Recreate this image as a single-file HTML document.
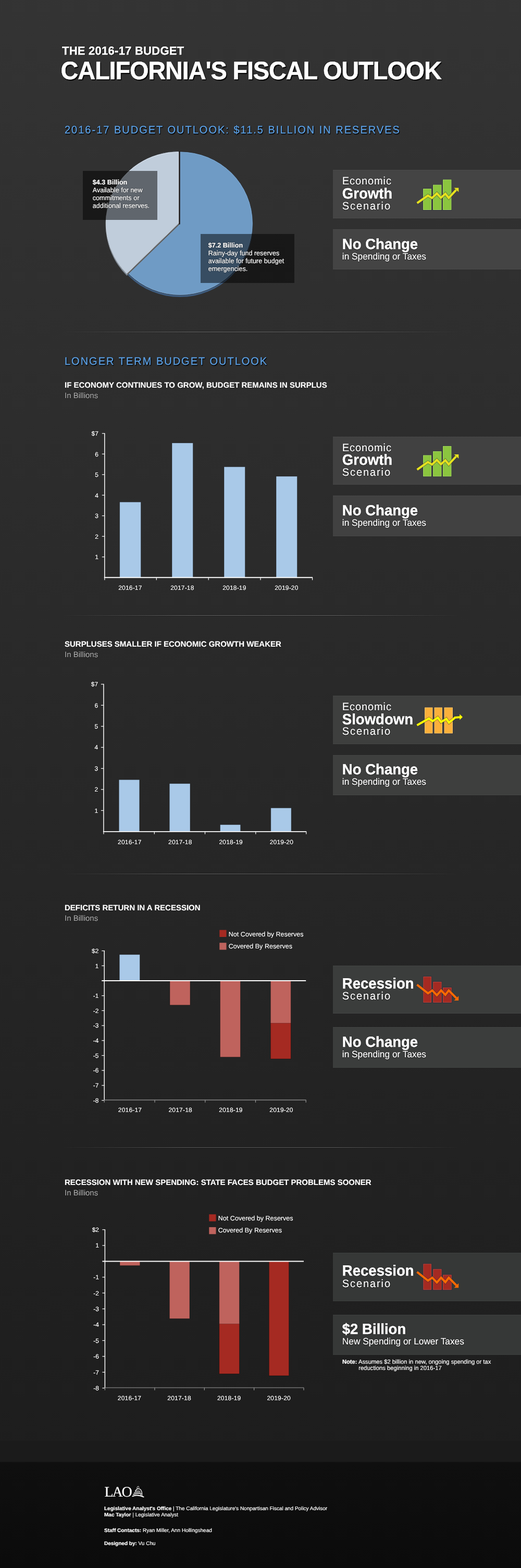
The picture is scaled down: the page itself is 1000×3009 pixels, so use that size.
<!DOCTYPE html>
<html lang="en"><head><meta charset="utf-8"><title>California's Fiscal Outlook</title>
<style>
*{margin:0;padding:0;box-sizing:border-box}
html,body{width:1000px;height:3009px;overflow:hidden;background:#1c1c1c}
body{position:relative;text-rendering:geometricPrecision;-webkit-text-stroke:0.2px;text-shadow:0 0 1px rgba(0,0,0,.85),0 0 2px rgba(0,0,0,.6);font-family:"Liberation Sans",Arial,Helvetica,sans-serif;color:#fff}
#bg{position:absolute;left:0;top:0;width:1000px;height:2765px;background:linear-gradient(to bottom,#343434 -63px,#1d1d1d 2828px)}
#band{position:absolute;left:0;top:2765px;width:1000px;height:42px;background:#1b1b1b}
#footer{position:absolute;left:0;top:2805px;width:1000px;height:204px;background:linear-gradient(to bottom,#161616 0,#0f0f0f 2px,#0e0e0e 60px,#0b0b0b 204px)}
.t{position:absolute;white-space:nowrap;display:block}
.b{font-weight:bold}
.box{position:absolute;left:638.8px;width:362px;box-shadow:inset 0 1px 0 rgba(255,255,255,.04),inset 0 -1px 0 rgba(255,255,255,.04)}
.hr{position:absolute;left:112px;width:776px;height:4px;background:linear-gradient(to bottom,rgba(0,0,0,.28) 0,rgba(0,0,0,.28) 1px,rgba(255,255,255,.15) 1px,rgba(255,255,255,.15) 3px,rgba(0,0,0,.28) 3px,rgba(0,0,0,.28) 4px);-webkit-mask-image:linear-gradient(to right,transparent 0,#000 32%,#000 68%,transparent 100%);mask-image:linear-gradient(to right,transparent 0,#000 32%,#000 68%,transparent 100%)}
.lbl{position:absolute;background:rgba(0,0,0,0.5)}
svg{position:absolute;left:0;top:0;overflow:visible}
.h{color:#5ea2e6;-webkit-text-stroke:0.3px #5ea2e6;text-shadow:1px 1px 1px #000,1px 2px 1px rgba(0,0,0,.8),0 0 2px rgba(0,0,0,.7)}
.g{color:#a8a8a8}
.p{text-shadow:0 0 1px rgba(0,0,0,.9),0 0 2px rgba(0,0,0,.8),0 1px 1px rgba(0,0,0,.5)}
</style></head>
<body>
<div id="bg"></div><div id="band"></div><div id="footer"></div>
<div class="t b" id="t1" style="top:84px;font-size:22px;line-height:27px;transform:scaleY(1.03);transform-origin:0 21px;letter-spacing:0.25px;left:119px;text-shadow:1px 1px 0 #000,-1px -1px 1px rgba(0,0,0,.4),0 0 2px rgba(0,0,0,.7);-webkit-text-stroke:0.4px #fff;">THE 2016-17 BUDGET</div>
<div class="t b" id="t2" style="top:107px;font-size:47px;line-height:57px;transform:scaleY(1.025);transform-origin:0 45px;letter-spacing:-1.19px;left:116.5px;text-shadow:1px 1px 0 #000,1px 2px 0 #000,2px 2px 1px rgba(0,0,0,.7),-1px -1px 1px rgba(0,0,0,.45),0 0 2px rgba(0,0,0,.6);-webkit-text-stroke:0.5px #fff;">CALIFORNIA'S FISCAL OUTLOOK</div>
<div class="t h" id="h1" style="top:238px;font-size:20px;line-height:24px;transform:scaleY(1.045);transform-origin:0 18px;letter-spacing:2px;left:124px;">2016-17 BUDGET OUTLOOK: $11.5 BILLION IN RESERVES</div>
<div class="t h" id="h2" style="top:682px;font-size:20px;line-height:24px;transform:scaleY(1.045);transform-origin:0 18px;letter-spacing:2px;left:124px;">LONGER TERM BUDGET OUTLOOK</div>
<div class="hr" style="top:635px"></div>
<div class="hr" style="top:1179px"></div>
<div class="hr" style="top:1675px"></div>
<div class="hr" style="top:2200px"></div>
<svg width="1000" height="3009" viewBox="0 0 1000 3009">
<g id="pie">
<ellipse cx="345.7" cy="432.3" rx="139.5" ry="137.8" fill="#3f5d80"/>
<ellipse cx="345.7" cy="428.7" rx="139.5" ry="137.7" fill="#6f9bc5" stroke="#25282d" stroke-width="0.8"/>
<ellipse cx="345.7" cy="428.7" rx="138.6" ry="136.8" fill="none" stroke="#86b2de" stroke-width="0.9" stroke-opacity="0.7"/>
<path d="M343.20,432.10 L343.20,294.10 A140.3,138 0 0 0 243.32,529.01 Z" fill="#7d8894"/>
<path d="M344.90,430.20 L344.90,292.20 A140.3,138 0 0 0 245.02,527.11 Z" fill="#5c5c5c"/>
<rect x="343.2" y="290.3" width="2.5" height="140.2" fill="#1c1613"/>
<path d="M343.20,428.50 L343.20,290.50 A140.3,138 0 0 0 243.32,525.41 Z" fill="#c0cddb" stroke="#25282d" stroke-width="0.6"/>
<path d="M342.60,429.10 L342.60,292.00 A139.4,137.1 0 0 0 243.36,525.38 Z" fill="none" stroke="#e4ecf4" stroke-width="0.9" stroke-opacity="0.8"/>
</g>
</svg>
<div class="lbl" style="left:158.6px;top:327.5px;width:143.5px;height:94.5px"></div>
<div class="lbl" style="left:385px;top:448.7px;width:180px;height:94.5px"></div>
<div class="t b" id="p1a" style="top:342px;font-size:12.6px;line-height:16px;transform:scaleY(1.03);transform-origin:0 12px;left:177.8px;">$4.3 Billion</div>
<div class="t" id="p1b" style="top:357px;font-size:12.6px;line-height:16px;transform:scaleY(1.03);transform-origin:0 12px;left:177.8px;">Available for new</div>
<div class="t" id="p1c" style="top:372px;font-size:12.6px;line-height:16px;transform:scaleY(1.03);transform-origin:0 12px;left:177.8px;">commitments or</div>
<div class="t" id="p1d" style="top:387px;font-size:12.6px;line-height:16px;transform:scaleY(1.03);transform-origin:0 12px;left:177.8px;">additional reserves.</div>
<div class="t b" id="p2a" style="top:463px;font-size:12.6px;line-height:16px;transform:scaleY(1.03);transform-origin:0 12px;left:399.7px;">$7.2 Billion</div>
<div class="t" id="p2b" style="top:478px;font-size:12.6px;line-height:16px;transform:scaleY(1.03);transform-origin:0 12px;left:399.7px;">Rainy-day fund reserves</div>
<div class="t" id="p2c" style="top:493px;font-size:12.6px;line-height:16px;transform:scaleY(1.03);transform-origin:0 12px;left:399.7px;">available for future budget</div>
<div class="t" id="p2d" style="top:508px;font-size:12.6px;line-height:16px;transform:scaleY(1.03);transform-origin:0 12px;left:399.7px;">emergencies.</div>
<div class="box" style="top:326.1px;height:92.5px;background:#444444"></div>
<div class="t p" id="s1a" style="top:336px;font-size:20px;line-height:24px;transform:scaleY(1.04);transform-origin:0 18px;letter-spacing:0.9px;left:656.8px;">Economic</div>
<div class="t b p" id="s1b" style="top:355px;font-size:27.55px;line-height:34px;transform:scaleY(1.045);transform-origin:0 26px;left:656.8px;-webkit-text-stroke:0.45px #fff;">Growth</div>
<div class="t p" id="s1c" style="top:384px;font-size:20px;line-height:24px;transform:scaleY(1.04);transform-origin:0 18px;letter-spacing:1.9px;left:656.8px;">Scenario</div>
<div class="box" style="top:439.8px;height:77.5px;background:#444444"></div>
<div class="t b p" id="n1a" style="top:452px;font-size:27.55px;line-height:34px;transform:scaleY(1.03);transform-origin:0 26px;left:656.8px;-webkit-text-stroke:0.45px #fff;">No Change</div>
<div class="t p" id="n1b" style="top:482px;font-size:17.3px;line-height:21px;transform:scaleY(1.03);transform-origin:0 16px;left:656.8px;">in Spending or Taxes</div>
<div class="box" style="top:837.6px;height:92.5px;background:#414141"></div>
<div class="t p" id="s2a" style="top:848px;font-size:20px;line-height:24px;transform:scaleY(1.04);transform-origin:0 18px;letter-spacing:0.9px;left:656.8px;">Economic</div>
<div class="t b p" id="s2b" style="top:866px;font-size:27.55px;line-height:34px;transform:scaleY(1.045);transform-origin:0 26px;left:656.8px;-webkit-text-stroke:0.45px #fff;">Growth</div>
<div class="t p" id="s2c" style="top:895px;font-size:20px;line-height:24px;transform:scaleY(1.04);transform-origin:0 18px;letter-spacing:1.9px;left:656.8px;">Scenario</div>
<div class="box" style="top:951.2px;height:77.5px;background:#414141"></div>
<div class="t b p" id="n2a" style="top:963px;font-size:27.55px;line-height:34px;transform:scaleY(1.03);transform-origin:0 26px;left:656.8px;-webkit-text-stroke:0.45px #fff;">No Change</div>
<div class="t p" id="n2b" style="top:993px;font-size:17.3px;line-height:21px;transform:scaleY(1.03);transform-origin:0 16px;left:656.8px;">in Spending or Taxes</div>
<div class="box" style="top:1335px;height:92.5px;background:#3e3f3e"></div>
<div class="t p" id="s3a" style="top:1345px;font-size:20px;line-height:24px;transform:scaleY(1.04);transform-origin:0 18px;letter-spacing:0.9px;left:656.8px;">Economic</div>
<div class="t b p" id="s3b" style="top:1364px;font-size:27.55px;line-height:34px;transform:scaleY(1.045);transform-origin:0 26px;left:656.8px;-webkit-text-stroke:0.45px #fff;">Slowdown</div>
<div class="t p" id="s3c" style="top:1392px;font-size:20px;line-height:24px;transform:scaleY(1.04);transform-origin:0 18px;letter-spacing:1.9px;left:656.8px;">Scenario</div>
<div class="box" style="top:1448.7px;height:77.5px;background:#3e3f3e"></div>
<div class="t b p" id="n3a" style="top:1460px;font-size:27.55px;line-height:34px;transform:scaleY(1.03);transform-origin:0 26px;left:656.8px;-webkit-text-stroke:0.45px #fff;">No Change</div>
<div class="t p" id="n3b" style="top:1490px;font-size:17.3px;line-height:21px;transform:scaleY(1.03);transform-origin:0 16px;left:656.8px;">in Spending or Taxes</div>
<div class="box" style="top:1852.5px;height:92.5px;background:#3b3d3c"></div>
<div class="t b p" id="s4b" style="top:1871px;font-size:27.55px;line-height:34px;transform:scaleY(1.045);transform-origin:0 26px;left:656.8px;-webkit-text-stroke:0.45px #fff;">Recession</div>
<div class="t p" id="s4c" style="top:1900px;font-size:20px;line-height:24px;transform:scaleY(1.04);transform-origin:0 18px;letter-spacing:1.9px;left:656.8px;">Scenario</div>
<div class="box" style="top:1971.2px;height:77.5px;background:#3b3d3c"></div>
<div class="t b p" id="n4a" style="top:1983px;font-size:27.55px;line-height:34px;transform:scaleY(1.03);transform-origin:0 26px;left:656.8px;-webkit-text-stroke:0.45px #fff;">No Change</div>
<div class="t p" id="n4b" style="top:2013px;font-size:17.3px;line-height:21px;transform:scaleY(1.03);transform-origin:0 16px;left:656.8px;">in Spending or Taxes</div>
<div class="box" style="top:2404px;height:92.5px;background:#363837"></div>
<div class="t b p" id="s5b" style="top:2422px;font-size:27.55px;line-height:34px;transform:scaleY(1.045);transform-origin:0 26px;left:656.8px;-webkit-text-stroke:0.45px #fff;">Recession</div>
<div class="t p" id="s5c" style="top:2452px;font-size:20px;line-height:24px;transform:scaleY(1.04);transform-origin:0 18px;letter-spacing:1.9px;left:656.8px;">Scenario</div>
<div class="box" style="top:2522.7px;height:77.5px;background:#363837"></div>
<div class="t b p" id="n5a" style="top:2534px;font-size:27.55px;line-height:34px;transform:scaleY(1.03);transform-origin:0 26px;left:656.8px;-webkit-text-stroke:0.45px #fff;">$2 Billion</div>
<div class="t p" id="n5b" style="top:2564px;font-size:17.3px;line-height:21px;transform:scaleY(1.03);transform-origin:0 16px;left:656.8px;">New Spending or Lower Taxes</div>
<div class="t" id="note1" style="top:2607px;font-size:11.2px;line-height:14px;transform:scaleY(1.02);transform-origin:0 10px;letter-spacing:0.01px;left:656.9px;"><b>Note:</b> Assumes $2 billion in new, ongoing spending or tax</div>
<div class="t" id="note2" style="top:2619px;font-size:11.2px;line-height:14px;transform:scaleY(1.02);transform-origin:0 10px;letter-spacing:0.01px;left:688.2px;">reductions beginning in 2016-17</div>
<div class="t b" id="c1t" style="top:731px;font-size:15px;line-height:18px;left:124px;-webkit-text-stroke:0.2px #fff;">IF ECONOMY CONTINUES TO GROW, BUDGET REMAINS IN SURPLUS</div>
<div class="t g" id="c1s" style="top:751px;font-size:15px;line-height:18px;left:124px;">In Billions</div>
<div class="t b" id="c2t" style="top:1228px;font-size:15px;line-height:18px;left:124px;-webkit-text-stroke:0.2px #fff;">SURPLUSES SMALLER IF ECONOMIC GROWTH WEAKER</div>
<div class="t g" id="c2s" style="top:1248px;font-size:15px;line-height:18px;left:124px;">In Billions</div>
<div class="t b" id="c3t" style="top:1734px;font-size:15px;line-height:18px;left:124px;-webkit-text-stroke:0.2px #fff;">DEFICITS RETURN IN A RECESSION</div>
<div class="t g" id="c3s" style="top:1754px;font-size:15px;line-height:18px;left:124px;">In Billions</div>
<div class="t b" id="c4t" style="top:2261px;font-size:15px;line-height:18px;left:124px;-webkit-text-stroke:0.2px #fff;">RECESSION WITH NEW SPENDING: STATE FACES BUDGET PROBLEMS SOONER</div>
<div class="t g" id="c4s" style="top:2281px;font-size:15px;line-height:18px;left:124px;">In Billions</div>
<div class="t" id="c1y7" style="top:825px;font-size:12px;line-height:15px;right:811.2px;text-align:right;">$7</div>
<div class="t" id="c1y6" style="top:865px;font-size:12px;line-height:15px;right:811.2px;text-align:right;">6</div>
<div class="t" id="c1y5" style="top:904px;font-size:12px;line-height:15px;right:811.2px;text-align:right;">5</div>
<div class="t" id="c1y4" style="top:944px;font-size:12px;line-height:15px;right:811.2px;text-align:right;">4</div>
<div class="t" id="c1y3" style="top:983px;font-size:12px;line-height:15px;right:811.2px;text-align:right;">3</div>
<div class="t" id="c1y2" style="top:1023px;font-size:12px;line-height:15px;right:811.2px;text-align:right;">2</div>
<div class="t" id="c1y1" style="top:1062px;font-size:12px;line-height:15px;right:811.2px;text-align:right;">1</div>
<div class="t" id="c1x2016" style="top:1121px;font-size:12px;line-height:15px;letter-spacing:0.2px;left:149.9px;width:200px;text-align:center;">2016-17</div>
<div class="t" id="c1x2017" style="top:1121px;font-size:12px;line-height:15px;letter-spacing:0.2px;left:249.9px;width:200px;text-align:center;">2017-18</div>
<div class="t" id="c1x2018" style="top:1121px;font-size:12px;line-height:15px;letter-spacing:0.2px;left:349.9px;width:200px;text-align:center;">2018-19</div>
<div class="t" id="c1x2019" style="top:1121px;font-size:12px;line-height:15px;letter-spacing:0.2px;left:449.9px;width:200px;text-align:center;">2019-20</div>
<div class="t" id="c2y7" style="top:1306px;font-size:12px;line-height:15px;right:811.8px;text-align:right;">$7</div>
<div class="t" id="c2y6" style="top:1347px;font-size:12px;line-height:15px;right:811.8px;text-align:right;">6</div>
<div class="t" id="c2y5" style="top:1387px;font-size:12px;line-height:15px;right:811.8px;text-align:right;">5</div>
<div class="t" id="c2y4" style="top:1427px;font-size:12px;line-height:15px;right:811.8px;text-align:right;">4</div>
<div class="t" id="c2y3" style="top:1468px;font-size:12px;line-height:15px;right:811.8px;text-align:right;">3</div>
<div class="t" id="c2y2" style="top:1508px;font-size:12px;line-height:15px;right:811.8px;text-align:right;">2</div>
<div class="t" id="c2y1" style="top:1549px;font-size:12px;line-height:15px;right:811.8px;text-align:right;">1</div>
<div class="t" id="c2x2016" style="top:1609px;font-size:12px;line-height:15px;letter-spacing:0.2px;left:148.8px;width:200px;text-align:center;">2016-17</div>
<div class="t" id="c2x2017" style="top:1609px;font-size:12px;line-height:15px;letter-spacing:0.2px;left:245.8px;width:200px;text-align:center;">2017-18</div>
<div class="t" id="c2x2018" style="top:1609px;font-size:12px;line-height:15px;letter-spacing:0.2px;left:343.2px;width:200px;text-align:center;">2018-19</div>
<div class="t" id="c2x2019" style="top:1609px;font-size:12px;line-height:15px;letter-spacing:0.2px;left:440.4px;width:200px;text-align:center;">2019-20</div>
<div class="t" id="c3y2" style="top:1818px;font-size:12px;line-height:15px;right:810.7px;text-align:right;">$2</div>
<div class="t" id="c3y1" style="top:1847px;font-size:12px;line-height:15px;right:810.7px;text-align:right;">1</div>
<div class="t" id="c3y-1" style="top:1904px;font-size:12px;line-height:15px;right:810.7px;text-align:right;">-1</div>
<div class="t" id="c3y-2" style="top:1933px;font-size:12px;line-height:15px;right:810.7px;text-align:right;">-2</div>
<div class="t" id="c3y-3" style="top:1961px;font-size:12px;line-height:15px;right:810.7px;text-align:right;">-3</div>
<div class="t" id="c3y-4" style="top:1990px;font-size:12px;line-height:15px;right:810.7px;text-align:right;">-4</div>
<div class="t" id="c3y-5" style="top:2019px;font-size:12px;line-height:15px;right:810.7px;text-align:right;">-5</div>
<div class="t" id="c3y-6" style="top:2047px;font-size:12px;line-height:15px;right:810.7px;text-align:right;">-6</div>
<div class="t" id="c3y-7" style="top:2076px;font-size:12px;line-height:15px;right:810.7px;text-align:right;">-7</div>
<div class="t" id="c3y-8" style="top:2105px;font-size:12px;line-height:15px;right:810.7px;text-align:right;">-8</div>
<div class="t" id="c3x2016" style="top:2123px;font-size:12px;line-height:15px;letter-spacing:0.2px;left:149.5px;width:200px;text-align:center;">2016-17</div>
<div class="t" id="c3x2017" style="top:2123px;font-size:12px;line-height:15px;letter-spacing:0.2px;left:246.2px;width:200px;text-align:center;">2017-18</div>
<div class="t" id="c3x2018" style="top:2123px;font-size:12px;line-height:15px;letter-spacing:0.2px;left:343px;width:200px;text-align:center;">2018-19</div>
<div class="t" id="c3x2019" style="top:2123px;font-size:12px;line-height:15px;letter-spacing:0.2px;left:440px;width:200px;text-align:center;">2019-20</div>
<div class="t" id="c4y2" style="top:2353px;font-size:12px;line-height:15px;right:810px;text-align:right;">$2</div>
<div class="t" id="c4y1" style="top:2383px;font-size:12px;line-height:15px;right:810px;text-align:right;">1</div>
<div class="t" id="c4y-1" style="top:2444px;font-size:12px;line-height:15px;right:810px;text-align:right;">-1</div>
<div class="t" id="c4y-2" style="top:2475px;font-size:12px;line-height:15px;right:810px;text-align:right;">-2</div>
<div class="t" id="c4y-3" style="top:2505px;font-size:12px;line-height:15px;right:810px;text-align:right;">-3</div>
<div class="t" id="c4y-4" style="top:2535px;font-size:12px;line-height:15px;right:810px;text-align:right;">-4</div>
<div class="t" id="c4y-5" style="top:2566px;font-size:12px;line-height:15px;right:810px;text-align:right;">-5</div>
<div class="t" id="c4y-6" style="top:2596px;font-size:12px;line-height:15px;right:810px;text-align:right;">-6</div>
<div class="t" id="c4y-7" style="top:2627px;font-size:12px;line-height:15px;right:810px;text-align:right;">-7</div>
<div class="t" id="c4y-8" style="top:2657px;font-size:12px;line-height:15px;right:810px;text-align:right;">-8</div>
<div class="t" id="c4x2016" style="top:2676px;font-size:12px;line-height:15px;letter-spacing:0.2px;left:148.5px;width:200px;text-align:center;">2016-17</div>
<div class="t" id="c4x2017" style="top:2676px;font-size:12px;line-height:15px;letter-spacing:0.2px;left:244.1px;width:200px;text-align:center;">2017-18</div>
<div class="t" id="c4x2018" style="top:2676px;font-size:12px;line-height:15px;letter-spacing:0.2px;left:339.7px;width:200px;text-align:center;">2018-19</div>
<div class="t" id="c4x2019" style="top:2676px;font-size:12px;line-height:15px;letter-spacing:0.2px;left:435.2px;width:200px;text-align:center;">2019-20</div>
<div class="t" id="l3a" style="top:1786px;font-size:12.5px;line-height:15px;letter-spacing:0.03px;left:438.8px;">Not Covered by Reserves</div>
<div class="t" id="l3b" style="top:1809px;font-size:12.5px;line-height:15px;letter-spacing:0.03px;left:438.8px;">Covered By Reserves</div>
<div class="t" id="l4a" style="top:2331px;font-size:12.5px;line-height:15px;letter-spacing:0.03px;left:418.8px;">Not Covered by Reserves</div>
<div class="t" id="l4b" style="top:2354px;font-size:12.5px;line-height:15px;letter-spacing:0.03px;left:418.8px;">Covered By Reserves</div>
<svg width="1000" height="3009" viewBox="0 0 1000 3009"><g id="chart1"><rect x="229.7" y="963.30" width="40.80" height="144.95" fill="#a9c9e8"/><rect x="330" y="850.00" width="40.50" height="258.25" fill="#a9c9e8"/><rect x="430" y="895.80" width="40.50" height="212.45" fill="#a9c9e8"/><rect x="530" y="914.00" width="40.50" height="194.25" fill="#a9c9e8"/><rect x="229.7" y="963.30" width="40.80" height="144.95" fill="none" stroke="#000" stroke-opacity="0.45" stroke-width="0.8"/><rect x="330" y="850.00" width="40.50" height="258.25" fill="none" stroke="#000" stroke-opacity="0.45" stroke-width="0.8"/><rect x="430" y="895.80" width="40.50" height="212.45" fill="none" stroke="#000" stroke-opacity="0.45" stroke-width="0.8"/><rect x="530" y="914.00" width="40.50" height="194.25" fill="none" stroke="#000" stroke-opacity="0.45" stroke-width="0.8"/><line x1="200.8" y1="831.2" x2="200.8" y2="1108.25" stroke="#fff" stroke-width="1.5"/><line x1="195.8" y1="831.75" x2="200.8" y2="831.75" stroke="#fff" stroke-width="1.2"/><line x1="195.8" y1="871.25" x2="200.8" y2="871.25" stroke="#fff" stroke-width="1.2"/><line x1="195.8" y1="910.75" x2="200.8" y2="910.75" stroke="#fff" stroke-width="1.2"/><line x1="195.8" y1="950.25" x2="200.8" y2="950.25" stroke="#fff" stroke-width="1.2"/><line x1="195.8" y1="989.75" x2="200.8" y2="989.75" stroke="#fff" stroke-width="1.2"/><line x1="195.8" y1="1029.25" x2="200.8" y2="1029.25" stroke="#fff" stroke-width="1.2"/><line x1="195.8" y1="1068.75" x2="200.8" y2="1068.75" stroke="#fff" stroke-width="1.2"/><line x1="199.8" y1="1108.25" x2="600" y2="1108.25" stroke="#fff" stroke-width="1.8"/><line x1="200.8" y1="1108.25" x2="200.8" y2="1113.25" stroke="#fff" stroke-width="1.2"/><line x1="300.3" y1="1108.25" x2="300.3" y2="1113.25" stroke="#fff" stroke-width="1.2"/><line x1="400.2" y1="1108.25" x2="400.2" y2="1113.25" stroke="#fff" stroke-width="1.2"/><line x1="500" y1="1108.25" x2="500" y2="1113.25" stroke="#fff" stroke-width="1.2"/><line x1="599.6" y1="1108.25" x2="599.6" y2="1113.25" stroke="#fff" stroke-width="1.2"/></g><g id="chart2"><rect x="228.2" y="1496.20" width="39.60" height="99.60" fill="#a9c9e8"/><rect x="325.2" y="1503.70" width="39.80" height="92.10" fill="#a9c9e8"/><rect x="422.5" y="1582.50" width="39.20" height="13.30" fill="#a9c9e8"/><rect x="519.8" y="1550.40" width="39.30" height="45.40" fill="#a9c9e8"/><rect x="228.2" y="1496.20" width="39.60" height="99.60" fill="none" stroke="#000" stroke-opacity="0.45" stroke-width="0.8"/><rect x="325.2" y="1503.70" width="39.80" height="92.10" fill="none" stroke="#000" stroke-opacity="0.45" stroke-width="0.8"/><rect x="422.5" y="1582.50" width="39.20" height="13.30" fill="none" stroke="#000" stroke-opacity="0.45" stroke-width="0.8"/><rect x="519.8" y="1550.40" width="39.30" height="45.40" fill="none" stroke="#000" stroke-opacity="0.45" stroke-width="0.8"/><line x1="198.9" y1="1312.6" x2="198.9" y2="1595.8" stroke="#fff" stroke-width="1.5"/><line x1="193.9" y1="1313.00" x2="198.9" y2="1313.00" stroke="#fff" stroke-width="1.2"/><line x1="193.9" y1="1353.40" x2="198.9" y2="1353.40" stroke="#fff" stroke-width="1.2"/><line x1="193.9" y1="1393.80" x2="198.9" y2="1393.80" stroke="#fff" stroke-width="1.2"/><line x1="193.9" y1="1434.20" x2="198.9" y2="1434.20" stroke="#fff" stroke-width="1.2"/><line x1="193.9" y1="1474.60" x2="198.9" y2="1474.60" stroke="#fff" stroke-width="1.2"/><line x1="193.9" y1="1515.00" x2="198.9" y2="1515.00" stroke="#fff" stroke-width="1.2"/><line x1="193.9" y1="1555.40" x2="198.9" y2="1555.40" stroke="#fff" stroke-width="1.2"/><line x1="197.9" y1="1595.8" x2="588" y2="1595.8" stroke="#fff" stroke-width="1.8"/><line x1="198.9" y1="1595.8" x2="198.9" y2="1600.8" stroke="#fff" stroke-width="1.2"/><line x1="296.3" y1="1595.8" x2="296.3" y2="1600.8" stroke="#fff" stroke-width="1.2"/><line x1="393.5" y1="1595.8" x2="393.5" y2="1600.8" stroke="#fff" stroke-width="1.2"/><line x1="490.8" y1="1595.8" x2="490.8" y2="1600.8" stroke="#fff" stroke-width="1.2"/><line x1="587.8" y1="1595.8" x2="587.8" y2="1600.8" stroke="#fff" stroke-width="1.2"/></g><g id="chart3"><rect x="229.2" y="1831.80" width="39.30" height="50.20" fill="#a9c9e8"/><rect x="326" y="1882.00" width="39.00" height="46.80" fill="#bf635d"/><rect x="422.5" y="1882.00" width="39.00" height="146.60" fill="#bf635d"/><rect x="519.3" y="1882.00" width="39.00" height="81.40" fill="#bf635d"/><rect x="519.3" y="1963.40" width="39.00" height="68.60" fill="#a52a22"/><rect x="229.2" y="1831.80" width="39.30" height="50.20" fill="none" stroke="#000" stroke-opacity="0.45" stroke-width="0.8"/><rect x="326" y="1882.00" width="39.00" height="46.80" fill="none" stroke="#000" stroke-opacity="0.45" stroke-width="0.8"/><rect x="422.5" y="1882.00" width="39.00" height="146.60" fill="none" stroke="#000" stroke-opacity="0.45" stroke-width="0.8"/><rect x="519.3" y="1882.00" width="39.00" height="150.00" fill="none" stroke="#000" stroke-opacity="0.45" stroke-width="0.8"/><line x1="200.2" y1="1824" x2="200.2" y2="2110.8" stroke="#fff" stroke-width="1.5"/><line x1="195.2" y1="1824.60" x2="200.2" y2="1824.60" stroke="#fff" stroke-width="1.2"/><line x1="195.2" y1="1853.30" x2="200.2" y2="1853.30" stroke="#fff" stroke-width="1.2"/><line x1="195.2" y1="1910.70" x2="200.2" y2="1910.70" stroke="#fff" stroke-width="1.2"/><line x1="195.2" y1="1939.40" x2="200.2" y2="1939.40" stroke="#fff" stroke-width="1.2"/><line x1="195.2" y1="1968.10" x2="200.2" y2="1968.10" stroke="#fff" stroke-width="1.2"/><line x1="195.2" y1="1996.80" x2="200.2" y2="1996.80" stroke="#fff" stroke-width="1.2"/><line x1="195.2" y1="2025.50" x2="200.2" y2="2025.50" stroke="#fff" stroke-width="1.2"/><line x1="195.2" y1="2054.20" x2="200.2" y2="2054.20" stroke="#fff" stroke-width="1.2"/><line x1="195.2" y1="2082.90" x2="200.2" y2="2082.90" stroke="#fff" stroke-width="1.2"/><line x1="195.2" y1="2111.60" x2="200.2" y2="2111.60" stroke="#fff" stroke-width="1.2"/><line x1="200.2" y1="2110.8" x2="587.2" y2="2110.8" stroke="#999" stroke-width="1.2"/><line x1="195.2" y1="1882" x2="587.2" y2="1882" stroke="#fff" stroke-width="1.8"/><line x1="200.2" y1="2110.8" x2="200.2" y2="2115.8" stroke="#999" stroke-width="1.2"/><line x1="297" y1="2110.8" x2="297" y2="2115.8" stroke="#999" stroke-width="1.2"/><line x1="393.8" y1="2110.8" x2="393.8" y2="2115.8" stroke="#999" stroke-width="1.2"/><line x1="490.5" y1="2110.8" x2="490.5" y2="2115.8" stroke="#999" stroke-width="1.2"/><line x1="587.2" y1="2110.8" x2="587.2" y2="2115.8" stroke="#999" stroke-width="1.2"/></g><g id="chart4"><rect x="230" y="2420.50" width="38.70" height="8.20" fill="#bf635d"/><rect x="325.3" y="2420.50" width="38.70" height="110.10" fill="#bf635d"/><rect x="420.8" y="2420.50" width="38.70" height="120.10" fill="#bf635d"/><rect x="420.8" y="2540.60" width="38.70" height="95.80" fill="#a52a22"/><rect x="516.3" y="2420.50" width="38.30" height="219.50" fill="#a52a22"/><rect x="230" y="2420.50" width="38.70" height="8.20" fill="none" stroke="#000" stroke-opacity="0.45" stroke-width="0.8"/><rect x="325.3" y="2420.50" width="38.70" height="110.10" fill="none" stroke="#000" stroke-opacity="0.45" stroke-width="0.8"/><rect x="420.8" y="2420.50" width="38.70" height="215.90" fill="none" stroke="#000" stroke-opacity="0.45" stroke-width="0.8"/><rect x="516.3" y="2420.50" width="38.30" height="219.50" fill="none" stroke="#000" stroke-opacity="0.45" stroke-width="0.8"/><line x1="201.4" y1="2359.3" x2="201.4" y2="2663" stroke="#fff" stroke-width="1.5"/><line x1="196.4" y1="2359.70" x2="201.4" y2="2359.70" stroke="#fff" stroke-width="1.2"/><line x1="196.4" y1="2390.10" x2="201.4" y2="2390.10" stroke="#fff" stroke-width="1.2"/><line x1="196.4" y1="2450.90" x2="201.4" y2="2450.90" stroke="#fff" stroke-width="1.2"/><line x1="196.4" y1="2481.30" x2="201.4" y2="2481.30" stroke="#fff" stroke-width="1.2"/><line x1="196.4" y1="2511.70" x2="201.4" y2="2511.70" stroke="#fff" stroke-width="1.2"/><line x1="196.4" y1="2542.10" x2="201.4" y2="2542.10" stroke="#fff" stroke-width="1.2"/><line x1="196.4" y1="2572.50" x2="201.4" y2="2572.50" stroke="#fff" stroke-width="1.2"/><line x1="196.4" y1="2602.90" x2="201.4" y2="2602.90" stroke="#fff" stroke-width="1.2"/><line x1="196.4" y1="2633.30" x2="201.4" y2="2633.30" stroke="#fff" stroke-width="1.2"/><line x1="196.4" y1="2663.70" x2="201.4" y2="2663.70" stroke="#fff" stroke-width="1.2"/><line x1="201.4" y1="2663" x2="583" y2="2663" stroke="#999" stroke-width="1.2"/><line x1="196.4" y1="2420.5" x2="583" y2="2420.5" stroke="#fff" stroke-width="1.8"/><line x1="201.4" y1="2663" x2="201.4" y2="2668" stroke="#999" stroke-width="1.2"/><line x1="296.9" y1="2663" x2="296.9" y2="2668" stroke="#999" stroke-width="1.2"/><line x1="392.3" y1="2663" x2="392.3" y2="2668" stroke="#999" stroke-width="1.2"/><line x1="487.6" y1="2663" x2="487.6" y2="2668" stroke="#999" stroke-width="1.2"/><line x1="583" y1="2663" x2="583" y2="2668" stroke="#999" stroke-width="1.2"/></g><rect x="421.3" y="1784.6" width="13.2" height="13.4" fill="#a52a22"/><rect x="421.3" y="1809.2" width="13.2" height="13.4" fill="#bf635d"/><rect x="401.3" y="2330.3" width="13.2" height="13.4" fill="#a52a22"/><rect x="401.3" y="2354.9" width="13.2" height="13.4" fill="#bf635d"/><g transform="translate(0,0)">
<g><rect x="811.40" y="361.40" width="17.20" height="42.40" fill="#23233a" fill-opacity="0.85"/><rect x="812.00" y="362.00" width="16.00" height="41.00" fill="#a3d65c"/><rect x="813.00" y="363.00" width="14.00" height="39.00" fill="#8bc53f"/><rect x="830.40" y="353.90" width="17.70" height="49.90" fill="#23233a" fill-opacity="0.85"/><rect x="831.00" y="354.50" width="16.50" height="48.50" fill="#a3d65c"/><rect x="832.00" y="355.50" width="14.50" height="46.50" fill="#8bc53f"/><rect x="849.40" y="343.90" width="17.70" height="59.90" fill="#23233a" fill-opacity="0.85"/><rect x="850.00" y="344.50" width="16.50" height="58.50" fill="#a3d65c"/><rect x="851.00" y="345.50" width="14.50" height="56.50" fill="#8bc53f"/></g>
<polyline points="800.6,389.8 821.3,375.2 829.1,380 838.5,371.2 846.3,379.5 854.8,371.8 861.3,379.8 875.5,364.5" fill="none" stroke="#2a2a3c" stroke-opacity="0.5" stroke-width="5.8" stroke-linejoin="miter"/>
<polyline points="800.6,389.8 821.3,375.2 829.1,380 838.5,371.2 846.3,379.5 854.8,371.8 861.3,379.8 875.5,364.5" fill="none" stroke="#e6e21e" stroke-width="4.1" stroke-linejoin="miter"/>
<polygon points="871.5,360.5 880.3,360.5 880.3,368.5" fill="#e6e21e"/>
</g><g transform="translate(0,511.4)">
<g><rect x="811.40" y="361.40" width="17.20" height="42.40" fill="#23233a" fill-opacity="0.85"/><rect x="812.00" y="362.00" width="16.00" height="41.00" fill="#a3d65c"/><rect x="813.00" y="363.00" width="14.00" height="39.00" fill="#8bc53f"/><rect x="830.40" y="353.90" width="17.70" height="49.90" fill="#23233a" fill-opacity="0.85"/><rect x="831.00" y="354.50" width="16.50" height="48.50" fill="#a3d65c"/><rect x="832.00" y="355.50" width="14.50" height="46.50" fill="#8bc53f"/><rect x="849.40" y="343.90" width="17.70" height="59.90" fill="#23233a" fill-opacity="0.85"/><rect x="850.00" y="344.50" width="16.50" height="58.50" fill="#a3d65c"/><rect x="851.00" y="345.50" width="14.50" height="56.50" fill="#8bc53f"/></g>
<polyline points="800.6,389.8 821.3,375.2 829.1,380 838.5,371.2 846.3,379.5 854.8,371.8 861.3,379.8 875.5,364.5" fill="none" stroke="#2a2a3c" stroke-opacity="0.5" stroke-width="5.8" stroke-linejoin="miter"/>
<polyline points="800.6,389.8 821.3,375.2 829.1,380 838.5,371.2 846.3,379.5 854.8,371.8 861.3,379.8 875.5,364.5" fill="none" stroke="#e6e21e" stroke-width="4.1" stroke-linejoin="miter"/>
<polygon points="871.5,360.5 880.3,360.5 880.3,368.5" fill="#e6e21e"/>
</g><g transform="translate(0,0)">
<g><rect x="814.40" y="1356.90" width="16.70" height="51.40" fill="#23233a" fill-opacity="0.85"/><rect x="815.00" y="1357.50" width="15.50" height="50.00" fill="#fdc766"/><rect x="816.00" y="1358.50" width="13.50" height="48.00" fill="#fbb03b"/><rect x="832.90" y="1356.90" width="16.70" height="51.40" fill="#23233a" fill-opacity="0.85"/><rect x="833.50" y="1357.50" width="15.50" height="50.00" fill="#fdc766"/><rect x="834.50" y="1358.50" width="13.50" height="48.00" fill="#fbb03b"/><rect x="851.90" y="1356.90" width="17.70" height="51.40" fill="#23233a" fill-opacity="0.85"/><rect x="852.50" y="1357.50" width="16.50" height="50.00" fill="#fdc766"/><rect x="853.50" y="1358.50" width="14.50" height="48.00" fill="#fbb03b"/></g>
<polyline points="800.4,1391.8 823.3,1378.8 830.3,1384 840.2,1377 846.7,1385.6 856.6,1379.4 861.8,1386.8 873.5,1377 883,1376.2" fill="none" stroke="#2a2a3c" stroke-opacity="0.5" stroke-width="5.8"/>
<polyline points="800.4,1391.8 823.3,1378.8 830.3,1384 840.2,1377 846.7,1385.6 856.6,1379.4 861.8,1386.8 873.5,1377 883,1376.2" fill="none" stroke="#ffff00" stroke-width="4.1"/>
<polygon points="882.3,1370.6 888,1376 882.3,1381.6" fill="#ffff00"/>
</g><g transform="translate(0,0)">
<g><rect x="811.70" y="1873.40" width="16.90" height="51.40" fill="#23233a" fill-opacity="0.85"/><rect x="812.30" y="1874.00" width="15.70" height="50.00" fill="#b9453b"/><rect x="813.30" y="1875.00" width="13.70" height="48.00" fill="#a52a22"/><rect x="830.60" y="1883.40" width="17.60" height="41.40" fill="#23233a" fill-opacity="0.85"/><rect x="831.20" y="1884.00" width="16.40" height="40.00" fill="#b9453b"/><rect x="832.20" y="1885.00" width="14.40" height="38.00" fill="#a52a22"/><rect x="849.40" y="1894.40" width="18.00" height="30.40" fill="#23233a" fill-opacity="0.85"/><rect x="850.00" y="1895.00" width="16.80" height="29.00" fill="#b9453b"/><rect x="851.00" y="1896.00" width="14.80" height="27.00" fill="#a52a22"/></g>
<polyline points="800.4,1889.6 821.5,1906.2 829.7,1900.6 838.5,1909.8 846.7,1900.6 854.8,1909.2 861.3,1900.6 876,1915.5" fill="none" stroke="#2a2a3c" stroke-opacity="0.5" stroke-width="5.8"/>
<polyline points="800.4,1889.6 821.5,1906.2 829.7,1900.6 838.5,1909.8 846.7,1900.6 854.8,1909.2 861.3,1900.6 876,1915.5" fill="none" stroke="#ff6a00" stroke-width="4.1"/>
<polygon points="880.2,1911.2 880.2,1920 871.6,1920" fill="#ff6a00"/>
</g><g transform="translate(0,551.3)">
<g><rect x="811.70" y="1873.40" width="16.90" height="51.40" fill="#23233a" fill-opacity="0.85"/><rect x="812.30" y="1874.00" width="15.70" height="50.00" fill="#b9453b"/><rect x="813.30" y="1875.00" width="13.70" height="48.00" fill="#a52a22"/><rect x="830.60" y="1883.40" width="17.60" height="41.40" fill="#23233a" fill-opacity="0.85"/><rect x="831.20" y="1884.00" width="16.40" height="40.00" fill="#b9453b"/><rect x="832.20" y="1885.00" width="14.40" height="38.00" fill="#a52a22"/><rect x="849.40" y="1894.40" width="18.00" height="30.40" fill="#23233a" fill-opacity="0.85"/><rect x="850.00" y="1895.00" width="16.80" height="29.00" fill="#b9453b"/><rect x="851.00" y="1896.00" width="14.80" height="27.00" fill="#a52a22"/></g>
<polyline points="800.4,1889.6 821.5,1906.2 829.7,1900.6 838.5,1909.8 846.7,1900.6 854.8,1909.2 861.3,1900.6 876,1915.5" fill="none" stroke="#2a2a3c" stroke-opacity="0.5" stroke-width="5.8"/>
<polyline points="800.4,1889.6 821.5,1906.2 829.7,1900.6 838.5,1909.8 846.7,1900.6 854.8,1909.2 861.3,1900.6 876,1915.5" fill="none" stroke="#ff6a00" stroke-width="4.1"/>
<polygon points="880.2,1911.2 880.2,1920 871.6,1920" fill="#ff6a00"/>
</g></svg>
<div class="t" id="lao" style="top:2847px;font-size:28px;line-height:34px;letter-spacing:-2.2px;left:200.6px;font-family:'Liberation Serif','Times New Roman',serif;">LAO</div>
<svg width="1000" height="3009" viewBox="0 0 1000 3009"><g id="dome" fill="none" stroke="#fff" stroke-linecap="round">
<path d="M254.3,2871.4 C259,2869 266,2868.4 275.6,2872.6" stroke-width="1.8"/>
<path d="M255.8,2867.8 C261,2865.8 266,2865.6 271,2866.6" stroke-width="1.5"/>
<path d="M257.6,2864.6 C261.5,2863.2 265.5,2863 269.5,2863.6" stroke-width="1.3"/>
<path d="M259.6,2861.8 C261,2858.6 263.5,2856.8 266,2856.8 C269.5,2857 272,2860.5 272.6,2866" stroke-width="1.3"/>
<path d="M260.5,2861.6 C263,2860.6 266,2860.6 268.6,2861.4" stroke-width="1"/>
<path d="M263.2,2856.4 C262.6,2854.6 263.6,2852.6 265.2,2852.2 C266.6,2852.4 267.2,2854 266.4,2855.4" stroke-width="1"/>
<path d="M272.4,2866 L272.8,2870.6 M270.2,2866.6 L270.4,2869.6" stroke-width="1.1"/>
</g></svg>
<div class="t" id="f1" style="top:2890px;font-size:10px;line-height:12px;left:200px;"><b>Legislative Analyst's Office</b> | The California Legislature's Nonpartisan Fiscal and Policy Advisor</div>
<div class="t" id="f2" style="top:2902px;font-size:10px;line-height:12px;left:200px;"><b>Mac Taylor</b> | Legislative Analyst</div>
<div class="t" id="f3" style="top:2932px;font-size:10px;line-height:12px;left:200px;"><b>Staff Contacts:</b> Ryan Miller, Ann Hollingshead</div>
<div class="t" id="f4" style="top:2957px;font-size:10px;line-height:12px;left:200px;"><b>Designed by:</b> Vu Chu</div>
</body></html>
